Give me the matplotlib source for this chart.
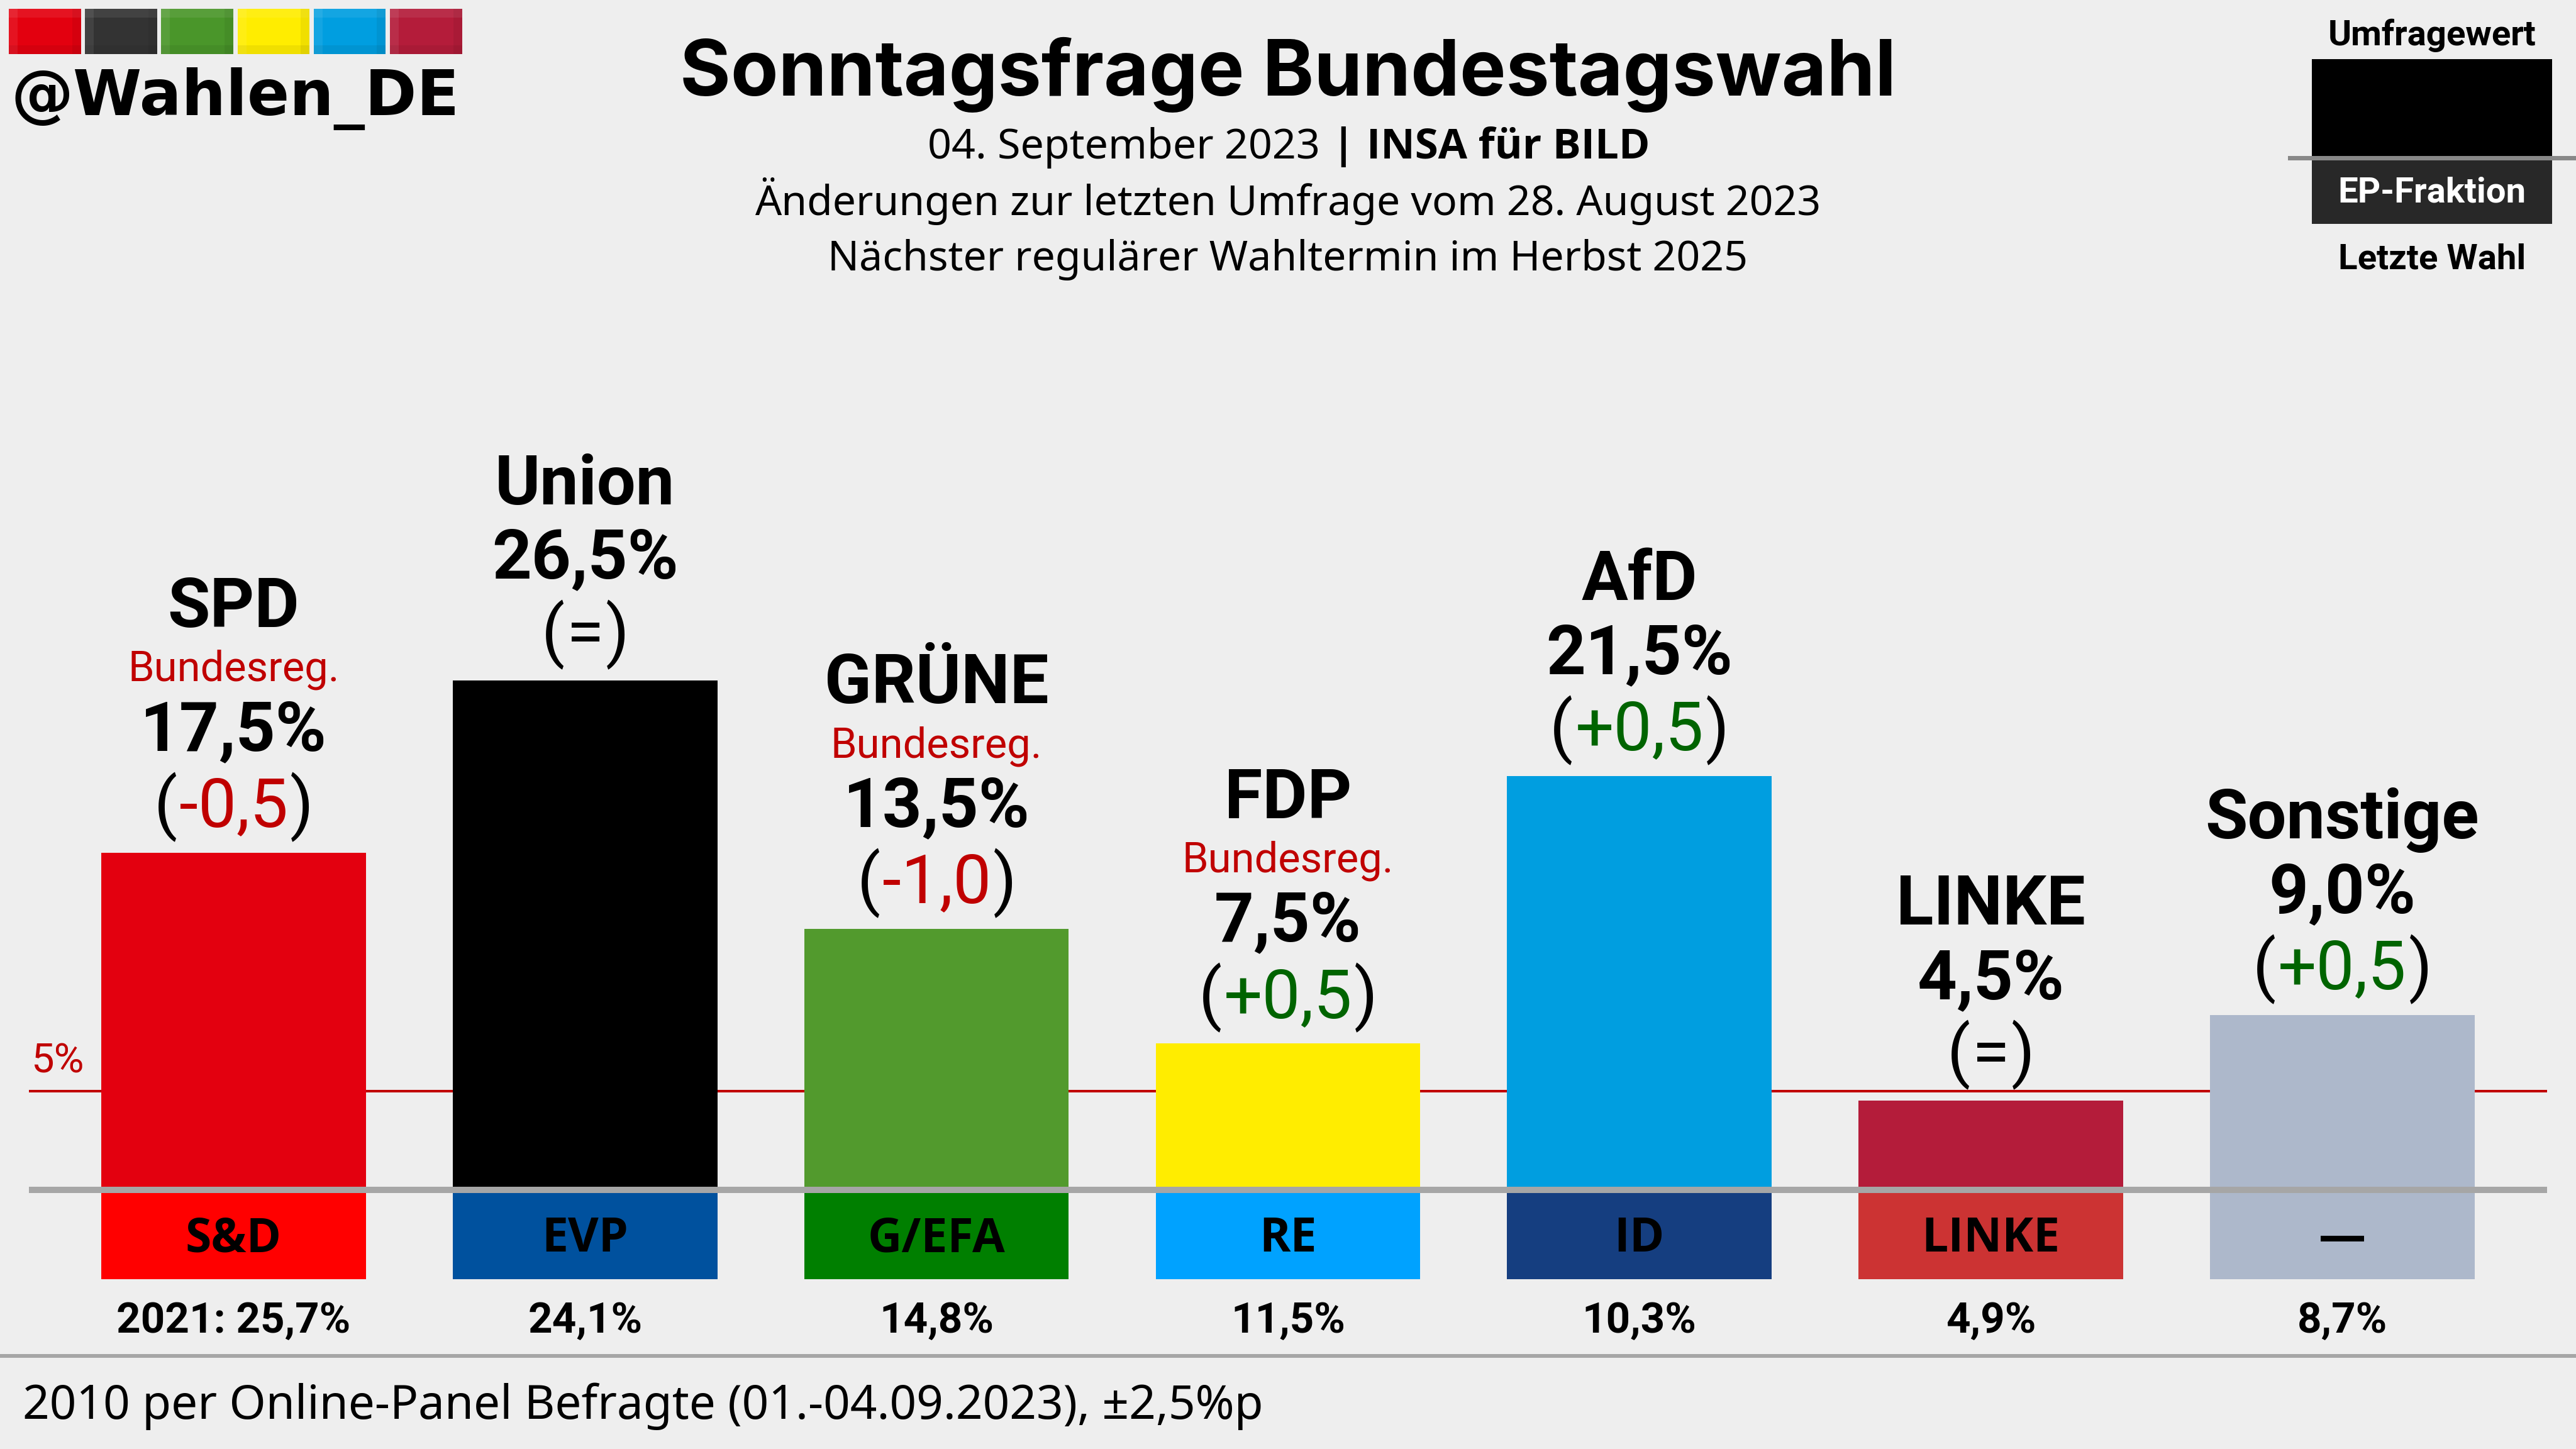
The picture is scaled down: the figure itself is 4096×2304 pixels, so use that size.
import matplotlib
matplotlib.use('Agg')
import matplotlib.pyplot as plt
from matplotlib.patches import Rectangle

# Daten
parteien = ['SPD', 'Union', 'GRÜNE', 'FDP', 'AfD', 'LINKE', 'Sonstige']
umfrage = [17.5, 26.5, 13.5, 7.5, 21.5, 4.5, 9.0]
aenderung = [-0.5, 0.0, -1.0, 0.5, 0.5, 0.0, 0.5]
regierung = [True, False, True, True, False, False, False]
letzte_wahl = [25.7, 24.1, 14.8, 11.5, 10.3, 4.9, 8.7]
fraktionen = ['S&D', 'EVP', 'G/EFA', 'RE', 'ID', 'LINKE', '—']
farben = ['#E3000F', '#000000', '#529A2D', '#FFED00', '#009EE0', '#B41C3A', '#ADB8CB']
farben_ep = ['#FF0000', '#00519E', '#007F00', '#00A2FF', '#153E80', '#CC3333', '#ADB8CB']
logo_farben = ['#E3000F', '#333333', '#4A962A', '#FFED00', '#009EE0', '#B41C3A']
huerde = 5

GRAU = '#EEEEEE'
ROT = '#C00000'
GRUEN = '#006400'
LINIE = '#A6A6A6'
ABSTAND = 558.8

fig = plt.figure(figsize=(40.96, 23.04), dpi=100, facecolor=GRAU)

# Achse fuer die Balken: 558.8 px pro Partei, 30.37 px pro Prozentpunkt, Null bei y=1887
ax = fig.add_axes([0, 0, 1, 1], zorder=1)
ax.set_xlim(-371.5 / ABSTAND, (4096 - 371.5) / ABSTAND)
ax.set_ylim((1887 - 2304) / 30.37, 1887 / 30.37)
ax.axis('off')

# Achse in Pixeln fuer alles andere
pix = fig.add_axes([0, 0, 1, 1], zorder=2)
pix.set_xlim(0, 4096)
pix.set_ylim(2304, 0)
pix.axis('off')


def text(x, y, s, size, weight='normal', family='Roboto', color='black', ha='center'):
    return pix.text(x, y, s, fontsize=size, fontweight=weight, family=family,
                    color=color, ha=ha, va='baseline')


def rahmen(x0, y0, x1, y1, color, alpha=1.0):
    pix.add_patch(Rectangle((x0, y0), x1 - x0, y1 - y0, facecolor=color,
                            edgecolor='none', alpha=alpha))


def komma(wert, vorzeichen=False):
    s = f'{wert:+.1f}' if vorzeichen else f'{wert:.1f}'
    return s.replace('.', ',')


# 5%-Huerde hinter den Balken
ax.hlines(huerde, (46 - 371.5) / ABSTAND, (4050 - 371.5) / ABSTAND, color=ROT, linewidth=2.9, zorder=1)
text(49, 1706, f'{huerde}%', 47, color=ROT, ha='left')

# Balken
x = range(len(parteien))
ax.bar(x, umfrage, width=420.5 / ABSTAND, color=farben, zorder=2)
ax.bar(x, [-4.84] * len(parteien), width=420.5 / ABSTAND, color=farben_ep, zorder=2)

renderer = fig.canvas.get_renderer()


def beschriften(i, s, wert, dy, size, weight='normal', color='black', ha='center', dx=0):
    return ax.annotate(s, xy=(i, wert), xytext=(dx, dy), textcoords='offset pixels',
                       fontsize=size, fontweight=weight, family='Roboto', color=color,
                       ha=ha, va='baseline', zorder=3)


# Beschriftung ueber den Balken
for i, wert in enumerate(umfrage):
    name_dy = 358.6 if regierung[i] else 280.5
    beschriften(i, parteien[i], wert, name_dy, 79, 'bold')
    if regierung[i]:
        beschriften(i, 'Bundesreg.', wert, 272.6, 48.2, color=ROT)
    beschriften(i, komma(wert) + '%', wert, 162.5, 79, 'bold')

    # Aenderung mit schwarzen Klammern
    d = aenderung[i]
    if d == 0:
        mitte = beschriften(i, '=', wert, 41.6, 78)
    else:
        mitte = beschriften(i, komma(d, True), wert, 41.6, 78, color=GRUEN if d > 0 else ROT)
    breite = mitte.get_window_extent(renderer).width
    beschriften(i, '(', wert, 41.6, 78, ha='right', dx=-breite / 2 - 3)
    beschriften(i, ')', wert, 41.6, 78, ha='left', dx=breite / 2 + 3)

# Grundlinie, Fraktionen, letzte Wahl
rahmen(46, 1887, 4050, 1897, LINIE)
for i in x:
    mitte_px = 371.5 + ABSTAND * i
    text(mitte_px, 1990.5, fraktionen[i], 54, 'bold', 'Open Sans')
    s = komma(letzte_wahl[i]) + '%'
    if i == 0:
        s = '2021: ' + s
    text(mitte_px, 2119.5, s, 48.4, 'bold')

# Fusszeile
rahmen(0, 2153, 4096, 2159, LINIE)
text(36, 2256.5, '2010 per Online-Panel Befragte (01.-04.09.2023), ±2,5%p', 53.8,
     family='Noto Sans', ha='left')

# Logo oben links
for k, farbe in enumerate(logo_farben):
    links = 14 + 121.2 * k
    rechts = links + 114.6
    rahmen(links, 14, rechts, 86, farbe)
    rahmen(links, 14, rechts, 28, 'white', 0.08)
    rahmen(links, 14, links + 14, 86, 'white', 0.08)
    rahmen(links, 72, rechts, 86, 'black', 0.06)
    rahmen(rechts - 14, 14, rechts, 86, 'black', 0.06)
text(18, 183, '@Wahlen_DE', 71.3, 'bold', 'DejaVu Sans', ha='left')

# Titel
text(2048, 152, 'Sonntagsfrage Bundestagswahl', 88.9, 'bold', 'Inter')
text(1475, 252, '04. September 2023', 47.8, family='Noto Sans', ha='left')
text(2136, 252, '|', 47.8, 'bold', 'Open Sans')
text(2173, 252, 'INSA für BILD', 48.3, 'bold', 'Open Sans', ha='left')
text(2048, 342, 'Änderungen zur letzten Umfrage vom 28. August 2023', 47.6, family='Noto Sans')
text(2048, 430, 'Nächster regulärer Wahltermin im Herbst 2025', 47.6, family='Noto Sans')

# Legende oben rechts
text(3867, 72, 'Umfragewert', 40.6, 'bold')
rahmen(3676, 94, 4057.5, 248, 'black')
rahmen(3676, 255, 4057.5, 356, '#282828')
rahmen(3638, 248, 4096, 255, '#888888')
text(3867, 321, 'EP-Fraktion', 40.6, 'bold', color='white')
text(3867, 428, 'Letzte Wahl', 40.6, 'bold')

fig.savefig('out.png', dpi=100, facecolor=GRAU)
